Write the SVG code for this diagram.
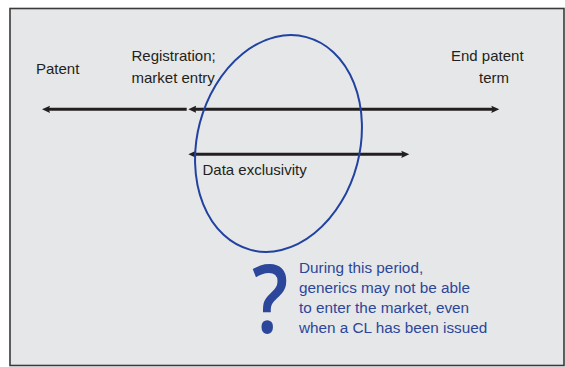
<svg xmlns="http://www.w3.org/2000/svg" width="565" height="367" viewBox="0 0 565 367">
  <style>
    .lbl { font-family: "Liberation Sans", Arial, sans-serif; font-size: 15px; fill: #231f20; }
    .note { font-family: "Liberation Sans", Arial, sans-serif; font-size: 15.3px; fill: #2b469b; }
    .qm { font-family: "Open Sans", "Liberation Sans", sans-serif; font-weight: 600; font-size: 94px; fill: #2b469b; }
    .arr { stroke: #231f20; stroke-width: 3; fill: none; }
  </style>
  <defs>
    <marker id="ah" viewBox="0 -4 9 8" refX="2" refY="0" markerWidth="9" markerHeight="8" markerUnits="userSpaceOnUse" orient="auto-start-reverse">
      <path d="M0,-3.6 L8,0 L0,3.6 L1.2,0 z" fill="#231f20"/>
    </marker>
  </defs>
  <rect x="0" y="0" width="565" height="367" fill="#ffffff"/>
  <rect id="frame" x="10" y="8.5" width="554" height="357" fill="#e6e7e8" stroke="#3a3a3a" stroke-width="1.6"/>

  <g id="connectors">
    <line class="arr" x1="186.7" y1="109.3" x2="48" y2="109.3" marker-end="url(#ah)"/>
    <line class="arr" x1="194.3" y1="109.3" x2="493.3" y2="109.3" marker-start="url(#ah)" marker-end="url(#ah)"/>
    <line class="arr" x1="194.3" y1="154.3" x2="403.3" y2="154.3" marker-start="url(#ah)" marker-end="url(#ah)"/>
  </g>

  <g id="patent">
    <text class="lbl" x="36" y="74">Patent</text>
  </g>
  <g id="registration">
    <text class="lbl" x="131.5" y="61">Registration;</text>
    <text class="lbl" x="131.5" y="83">market entry</text>
  </g>
  <g id="end-patent">
    <text class="lbl" x="451" y="61">End patent</text>
    <text class="lbl" x="479" y="83">term</text>
  </g>
  <g id="data-exclusivity">
    <text class="lbl" x="202.5" y="175">Data exclusivity</text>
  </g>

  <g id="period-ellipse">
    <ellipse cx="278.5" cy="143.5" rx="81.3" ry="110" transform="rotate(14.7 278.5 143.5)" fill="none" stroke="#2142a0" stroke-width="2"/>
  </g>

  <g id="question">
    <text class="qm" transform="translate(252 332.7) scale(0.85 1)" x="0" y="0">?</text>
  </g>
  <g id="note">
    <text class="note" x="299" y="273.4">During this period,</text>
    <text class="note" x="299" y="293.2">generics may not be able</text>
    <text class="note" x="299" y="313">to enter the market, even</text>
    <text class="note" x="299" y="332.8">when a CL has been issued</text>
  </g>
</svg>
